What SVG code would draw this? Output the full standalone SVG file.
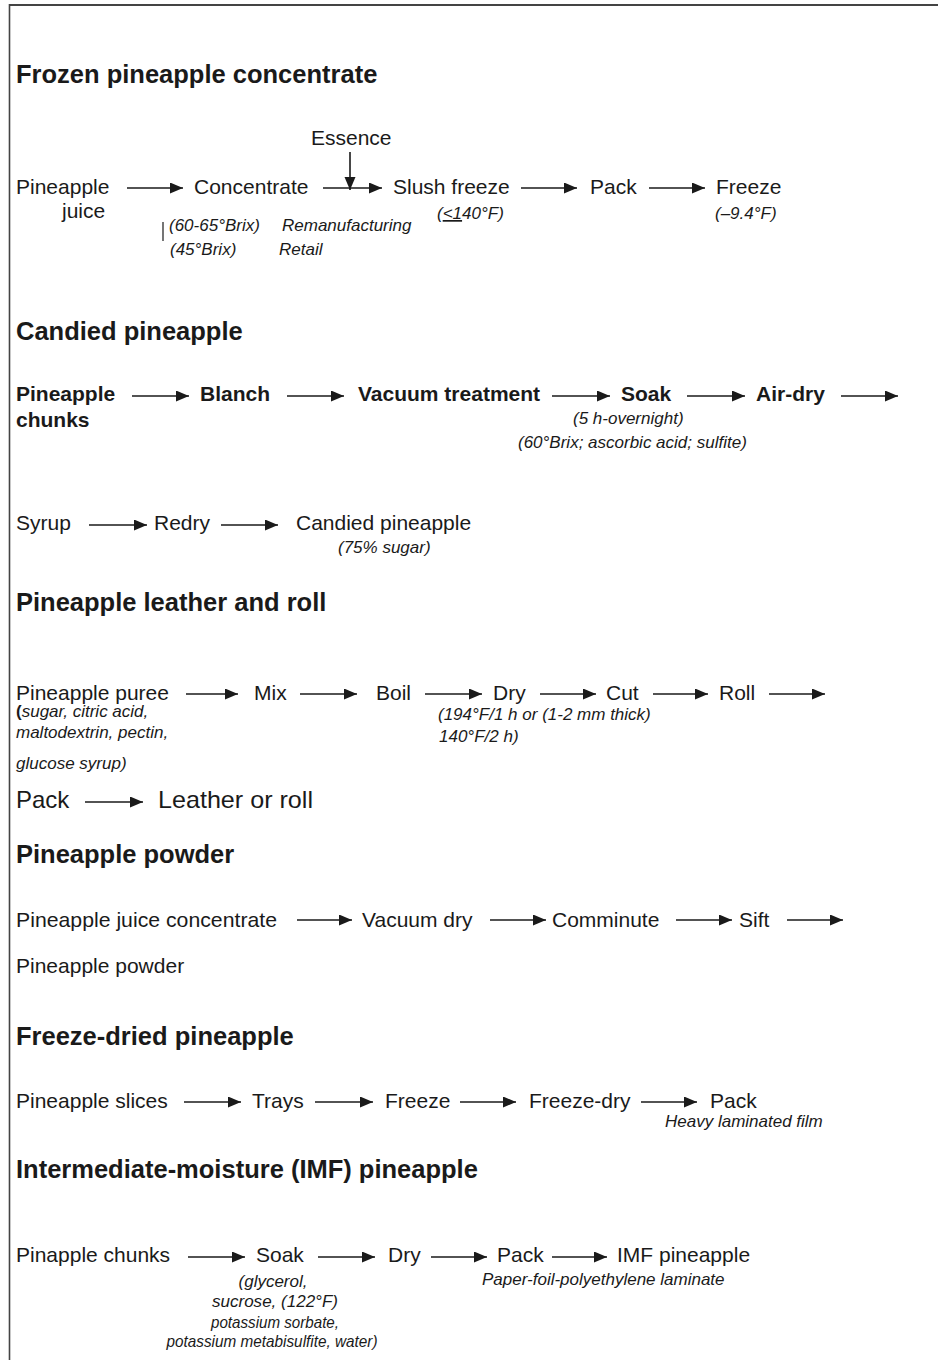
<svg xmlns="http://www.w3.org/2000/svg" width="938" height="1360" viewBox="0 0 938 1360">
  <style>
    text { font-family: "Liberation Sans", Arial, Helvetica, sans-serif; fill: #1a1a1a; }
    .h { font-size: 25.5px; font-weight: bold; }
    .t { font-size: 21px; }
    .b { font-size: 21px; font-weight: bold; }
    .big { font-size: 24px; }
    .n { font-size: 17px; font-style: italic; }
    .ctr { text-anchor: middle; }
    .arrow { stroke: #1a1a1a; stroke-width: 1.6; fill: none; marker-end: url(#head); }
    .frame { stroke: #444; fill: none; }
  </style>
  <defs>
    <marker id="head" markerUnits="userSpaceOnUse" markerWidth="14" markerHeight="12" refX="13" refY="5.5" orient="auto">
      <path d="M0,0 L13,5.5 L0,11 Z" fill="#1a1a1a"/>
    </marker>
  </defs>

  <rect width="938" height="1360" fill="#ffffff"/>
  <!-- frame: top and left rules -->
  <line class="frame" x1="9" y1="5" x2="938" y2="5" stroke-width="2"/>
  <line class="frame" x1="9.5" y1="4" x2="9.5" y2="1360" stroke-width="1.6"/>

  <!-- ===== Frozen pineapple concentrate ===== -->
  <g id="sec-frozen">
    <text class="h" x="16" y="83">Frozen pineapple concentrate</text>
    <g id="n-essence"><text class="t" x="311" y="145">Essence</text></g>
    <g id="n-juice"><text class="t" x="16" y="194">Pineapple</text><text class="t" x="62" y="218">juice</text></g>
    <g id="n-concentrate"><text class="t" x="194" y="194">Concentrate</text></g>
    <g id="n-slush"><text class="t" x="393" y="194">Slush freeze</text></g>
    <g id="n-pack1"><text class="t" x="590" y="194">Pack</text></g>
    <g id="n-freeze1"><text class="t" x="716" y="194">Freeze</text></g>
    <g id="notes-frozen">
      <line x1="163" y1="222" x2="163" y2="241" stroke="#1a1a1a" stroke-width="1.2"/>
      <text class="n" x="169" y="231">(60-65°Brix)</text>
      <text class="n" x="170" y="255">(45°Brix)</text>
      <text class="n" x="282" y="231">Remanufacturing</text>
      <text class="n" x="279" y="255">Retail</text>
      <text class="n" x="437" y="219">(<tspan text-decoration="underline">&lt;1</tspan>40°F)</text>
      <text class="n" x="715" y="219">(–9.4°F)</text>
    </g>
  </g>

  <!-- ===== Candied pineapple ===== -->
  <g id="sec-candied">
    <text class="h" x="16" y="340">Candied pineapple</text>
    <g id="n-chunks"><text class="b" x="16" y="401">Pineapple</text><text class="b" x="16" y="427">chunks</text></g>
    <g id="n-blanch"><text class="b" x="200" y="401">Blanch</text></g>
    <g id="n-vacuum"><text class="b" x="358" y="401">Vacuum treatment</text></g>
    <g id="n-soak1"><text class="b" x="621" y="401">Soak</text></g>
    <g id="n-airdry"><text class="b" x="756" y="401">Air-dry</text></g>
    <g id="notes-soak1">
      <text class="n" x="573" y="424">(5 h-overnight)</text>
      <text class="n" x="518" y="448">(60°Brix; ascorbic acid; sulfite)</text>
    </g>
    <g id="n-syrup"><text class="t" x="16" y="530">Syrup</text></g>
    <g id="n-redry"><text class="t" x="154" y="530">Redry</text></g>
    <g id="n-candied"><text class="t" x="296" y="530">Candied pineapple</text><text class="n" x="338" y="553">(75% sugar)</text></g>
  </g>

  <!-- ===== Pineapple leather and roll ===== -->
  <g id="sec-leather">
    <text class="h" x="16" y="611">Pineapple leather and roll</text>
    <g id="n-puree">
      <text class="t" x="16" y="700">Pineapple puree</text>
      <text class="n" x="16" y="717"><tspan font-style="normal" font-weight="bold">(</tspan>sugar, citric acid,</text>
      <text class="n" x="16" y="738">maltodextrin, pectin,</text>
      <text class="n" x="16" y="769">glucose syrup)</text>
    </g>
    <g id="n-mix"><text class="t" x="254" y="700">Mix</text></g>
    <g id="n-boil"><text class="t" x="376" y="700">Boil</text></g>
    <g id="n-dry1">
      <text class="t" x="493" y="700">Dry</text>
      <text class="n" x="438" y="720">(194°F/1 h or (1-2 mm thick)</text>
      <text class="n" x="439" y="742">140°F/2 h)</text>
    </g>
    <g id="n-cut"><text class="t" x="606" y="700">Cut</text></g>
    <g id="n-roll"><text class="t" x="719" y="700">Roll</text></g>
    <g id="n-pack2"><text class="big" x="16" y="808">Pack</text></g>
    <g id="n-leather"><text class="big" x="158" y="808" textLength="155" lengthAdjust="spacingAndGlyphs">Leather or roll</text></g>
  </g>

  <!-- ===== Pineapple powder ===== -->
  <g id="sec-powder">
    <text class="h" x="16" y="863">Pineapple powder</text>
    <g id="n-pjc"><text class="t" x="16" y="927" textLength="261" lengthAdjust="spacingAndGlyphs">Pineapple juice concentrate</text></g>
    <g id="n-vacdry"><text class="t" x="362" y="927">Vacuum dry</text></g>
    <g id="n-comminute"><text class="t" x="552" y="927">Comminute</text></g>
    <g id="n-sift"><text class="t" x="739" y="927">Sift</text></g>
    <g id="n-powder"><text class="t" x="16" y="973">Pineapple powder</text></g>
  </g>

  <!-- ===== Freeze-dried pineapple ===== -->
  <g id="sec-freezedried">
    <text class="h" x="16" y="1045">Freeze-dried pineapple</text>
    <g id="n-slices"><text class="t" x="16" y="1108">Pineapple slices</text></g>
    <g id="n-trays"><text class="t" x="252" y="1108">Trays</text></g>
    <g id="n-freeze2"><text class="t" x="385" y="1108">Freeze</text></g>
    <g id="n-freezedry"><text class="t" x="529" y="1108">Freeze-dry</text></g>
    <g id="n-pack3"><text class="t" x="710" y="1108">Pack</text><text class="n" x="665" y="1127">Heavy laminated film</text></g>
  </g>

  <!-- ===== Intermediate-moisture pineapple ===== -->
  <g id="sec-imf">
    <text class="h" x="16" y="1178">Intermediate-moisture (IMF) pineapple</text>
    <g id="n-pchunks"><text class="t" x="16" y="1262">Pinapple chunks</text></g>
    <g id="n-soak2">
      <text class="t" x="256" y="1262">Soak</text>
      <text class="n ctr" x="273" y="1287">(glycerol,</text>
      <text class="n ctr" x="275" y="1307" textLength="126" lengthAdjust="spacingAndGlyphs">sucrose, (122°F)</text>
      <text class="n ctr" x="275" y="1328" textLength="128" lengthAdjust="spacingAndGlyphs">potassium sorbate,</text>
      <text class="n ctr" x="272" y="1347" textLength="211" lengthAdjust="spacingAndGlyphs">potassium metabisulfite, water)</text>
    </g>
    <g id="n-dry2"><text class="t" x="388" y="1262">Dry</text></g>
    <g id="n-pack4"><text class="t" x="497" y="1262">Pack</text><text class="n" x="482" y="1285">Paper-foil-polyethylene laminate</text></g>
    <g id="n-imf"><text class="t" x="617" y="1262">IMF pineapple</text></g>
  </g>

  <!-- ===== connectors ===== -->
  <g id="connectors">
    <!-- frozen concentrate -->
    <line class="arrow" x1="127" y1="188" x2="183" y2="188"/>
    <line class="arrow" x1="323" y1="188" x2="382" y2="188"/>
    <line class="arrow" x1="350" y1="152" x2="350" y2="190"/>
    <line class="arrow" x1="521" y1="188" x2="577" y2="188"/>
    <line class="arrow" x1="649" y1="188" x2="705" y2="188"/>
    <!-- candied -->
    <line class="arrow" x1="132" y1="396" x2="189" y2="396"/>
    <line class="arrow" x1="287" y1="396" x2="344" y2="396"/>
    <line class="arrow" x1="552" y1="396" x2="610" y2="396"/>
    <line class="arrow" x1="687" y1="396" x2="745" y2="396"/>
    <line class="arrow" x1="841" y1="396" x2="898" y2="396"/>
    <line class="arrow" x1="89" y1="525" x2="147" y2="525"/>
    <line class="arrow" x1="221" y1="525" x2="278" y2="525"/>
    <!-- leather and roll -->
    <line class="arrow" x1="186" y1="694" x2="238" y2="694"/>
    <line class="arrow" x1="300" y1="694" x2="357" y2="694"/>
    <line class="arrow" x1="425" y1="694" x2="482" y2="694"/>
    <line class="arrow" x1="540" y1="694" x2="596" y2="694"/>
    <line class="arrow" x1="653" y1="694" x2="708" y2="694"/>
    <line class="arrow" x1="769" y1="694" x2="825" y2="694"/>
    <line class="arrow" x1="85" y1="802" x2="143" y2="802"/>
    <!-- powder -->
    <line class="arrow" x1="297" y1="920" x2="352" y2="920"/>
    <line class="arrow" x1="490" y1="920" x2="546" y2="920"/>
    <line class="arrow" x1="676" y1="920" x2="732" y2="920"/>
    <line class="arrow" x1="787" y1="920" x2="843" y2="920"/>
    <!-- freeze-dried -->
    <line class="arrow" x1="184" y1="1102" x2="241" y2="1102"/>
    <line class="arrow" x1="315" y1="1102" x2="373" y2="1102"/>
    <line class="arrow" x1="460" y1="1102" x2="516" y2="1102"/>
    <line class="arrow" x1="641" y1="1102" x2="697" y2="1102"/>
    <!-- IMF -->
    <line class="arrow" x1="188" y1="1257" x2="245" y2="1257"/>
    <line class="arrow" x1="318" y1="1257" x2="375" y2="1257"/>
    <line class="arrow" x1="431" y1="1257" x2="487" y2="1257"/>
    <line class="arrow" x1="552" y1="1257" x2="607" y2="1257"/>
  </g>
</svg>
